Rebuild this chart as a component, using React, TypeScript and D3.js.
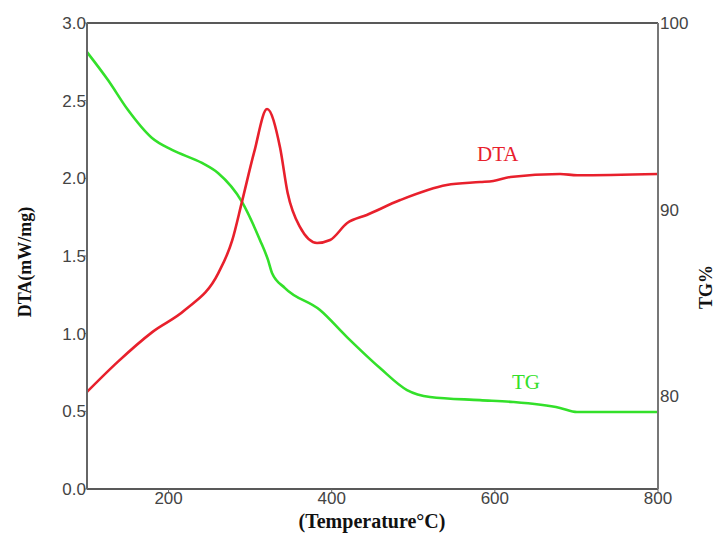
import React from "react";
import * as d3 from "d3";

const dtaTemp = [100, 138, 180, 220, 261, 278, 290, 305, 320.7, 336.6, 346, 361, 382, 398, 419, 443, 484, 541, 582, 598, 619, 680, 701, 800];
const dtaValue = [0.625, 0.82, 1.01, 1.152, 1.39, 1.6, 1.85, 2.17, 2.446, 2.2, 1.905, 1.687, 1.584, 1.603, 1.712, 1.764, 1.86, 1.957, 1.976, 1.983, 2.009, 2.028, 2.02, 2.028];

const tgTemp = [100, 125.7, 150.3, 179.7, 204.2, 241, 260.6, 290, 312, 321.9, 326.8, 342.7, 385.6, 418.7, 459.2, 492.3, 520.5, 581.8, 622.2, 679.9, 700.7, 800];
const tgValue = [98.44, 96.94, 95.33, 93.83, 93.19, 92.49, 91.95, 90.4, 88.36, 87.29, 86.59, 85.78, 84.6, 83.15, 81.49, 80.31, 79.94, 79.77, 79.67, 79.35, 79.13, 79.13];

const xTicks = [200, 400, 600, 800];
const leftTicks = [0, 0.5, 1.0, 1.5, 2.0, 2.5, 3.0];
const rightTicks = [80, 90, 100];

export default function App() {
  const W = 719, H = 546;
  const L = 87, R = 658, T = 23, B = 489;
  const x = d3.scaleLinear().domain([100, 800]).range([L, R]);
  const y = d3.scaleLinear().domain([0, 3]).range([B, T]);
  const y2 = d3.scaleLinear().domain([75, 100]).range([B, T]);

  const dtaLine = d3.line<number>().x((_, i) => x(dtaTemp[i])).y((d) => y(d)).curve(d3.curveMonotoneX);
  const tgLine = d3.line<number>().x((_, i) => x(tgTemp[i])).y((d) => y2(d)).curve(d3.curveMonotoneX);

  const tickFont = "Arial, 'Liberation Sans', sans-serif";
  const serif = "'Times New Roman', 'Liberation Serif', serif";
  const tickColor = "#444";

  return (
    <svg width={W} height={H} style={{ position: "absolute", left: 0, top: 0, background: "#fff" }}>
      <rect x={0} y={0} width={W} height={H} fill="#fff" />
      {/* curves */}
      <path d={tgLine(tgValue) || ""} fill="none" stroke="#33e02a" strokeWidth={2.6} />
      <path d={dtaLine(dtaValue) || ""} fill="none" stroke="#e8202c" strokeWidth={2.6} />

      {/* frame */}
      <line x1={L} x2={R} y1={T} y2={T} stroke="#222" strokeWidth={1.5} />
      <line x1={L} x2={R} y1={B} y2={B} stroke="#222" strokeWidth={1.5} />
      <line x1={L} x2={L} y1={T} y2={B} stroke="#666" strokeWidth={2} />
      <line x1={R} x2={R} y1={T} y2={B} stroke="#777" strokeWidth={2} />

      {/* left ticks */}
      {leftTicks.map((t) => (
        <g key={"l" + t}>
          <line x1={L - 3} x2={L} y1={y(t)} y2={y(t)} stroke="#666" strokeWidth={1} />
          <text x={L - 1} y={y(t)} dy="0.36em" textAnchor="end" fontFamily={tickFont} fontSize={17} fill={tickColor}>
            {t.toFixed(1)}
          </text>
        </g>
      ))}

      {/* bottom ticks */}
      {xTicks.map((t) => (
        <g key={"b" + t}>
          <line x1={x(t)} x2={x(t)} y1={B} y2={B + 3} stroke="#666" strokeWidth={1} />
          <text x={x(t)} y={B + 15} textAnchor="middle" fontFamily={tickFont} fontSize={17} fill={tickColor}>
            {t}
          </text>
        </g>
      ))}

      {/* right ticks */}
      {rightTicks.map((t) => (
        <text key={"r" + t} x={R + 2} y={y2(t)} dy="0.36em" textAnchor="start" fontFamily={tickFont} fontSize={17} fill={tickColor}>
          {t}
        </text>
      ))}

      {/* series labels */}
      <text x={477} y={161} fontFamily={serif} fontSize={21} fill="#e8202c">DTA</text>
      <text x={512} y={389} fontFamily={serif} fontSize={21} fill="#33e02a">TG</text>

      {/* axis titles */}
      <text transform={`translate(31,262) rotate(-90)`} textAnchor="middle" fontFamily={serif} fontWeight="bold" fontSize={18} fill="#111">
        DTA(mW/mg)
      </text>
      <text transform={`translate(712,287) rotate(-90)`} textAnchor="middle" fontFamily={serif} fontWeight="bold" fontSize={18} fill="#111">
        TG%
      </text>
      <text x={372} y={528} textAnchor="middle" fontFamily={serif} fontWeight="bold" fontSize={20} fill="#111">
        (Temperature°C)
      </text>
    </svg>
  );
}
